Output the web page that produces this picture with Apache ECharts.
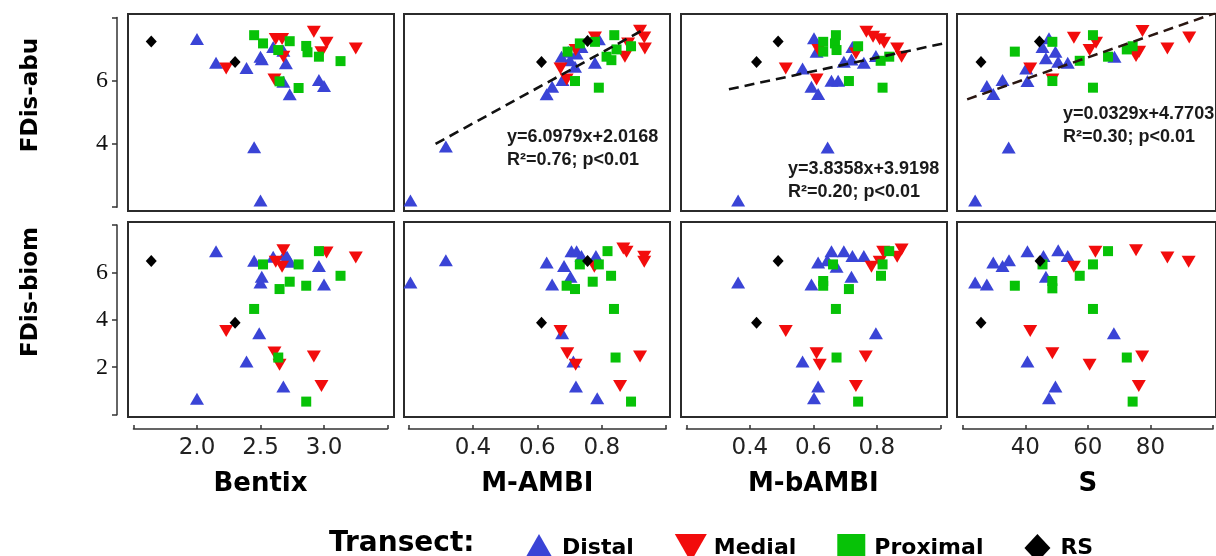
<!DOCTYPE html>
<html>
<head>
<meta charset="utf-8">
<script src="https://cdn.jsdelivr.net/npm/echarts@6/dist/echarts.min.js"></script>
<style>
  html, body { margin: 0; padding: 0; background: #fff; }
  #chart { width: 1216px; height: 556px; }
</style>
</head>
<body>
<div id="chart"></div>
<script>
// ---- data: [x, FDis] per station, one block per panel ----
var transects = ['Distal', 'Medial', 'Proximal', 'RS'];

var bentixAbu = {
  Distal: [[2.00,7.32],[2.15,6.57],[2.39,6.40],[2.50,6.76],[2.51,6.68],[2.60,7.07],[2.68,6.95],[2.70,6.55],[2.73,5.57],[2.96,6.02],[3.00,5.83],[2.68,5.97],[2.45,3.90],[2.50,2.21]],
  Medial: [[2.23,6.39],[2.62,7.32],[2.67,7.32],[2.68,6.76],[2.92,7.55],[3.02,7.20],[2.98,6.90],[3.25,7.02],[2.61,6.04]],
  Proximal: [[2.45,7.44],[2.52,7.18],[2.73,7.25],[2.64,6.97],[2.86,7.10],[2.87,6.90],[2.96,6.76],[3.13,6.62],[2.65,5.98],[2.80,5.77]],
  RS: [[1.64,7.24],[2.30,6.59]]
};
var mambiAbu = {
  Distal: [[0.206,2.21],[0.316,3.92],[0.629,5.57],[0.646,5.81],[0.678,6.02],[0.675,6.76],[0.701,6.65],[0.717,6.44],[0.722,6.86],[0.737,7.07],[0.779,6.57],[0.791,7.31],[0.696,6.92]],
  Medial: [[0.672,6.39],[0.691,6.04],[0.719,6.97],[0.779,7.37],[0.872,6.76],[0.882,7.18],[0.919,7.58],[0.932,7.37],[0.934,7.02]],
  Proximal: [[0.694,6.92],[0.717,5.99],[0.732,7.18],[0.779,7.23],[0.791,5.78],[0.815,6.76],[0.830,6.65],[0.839,7.44],[0.846,6.99],[0.891,7.09]],
  RS: [[0.613,6.59],[0.756,7.26]]
};
var mbambiAbu = {
  Distal: [[0.363,2.21],[0.645,3.89],[0.566,6.39],[0.594,5.81],[0.615,5.58],[0.602,7.34],[0.610,6.92],[0.657,6.00],[0.678,6.00],[0.696,6.60],[0.720,6.67],[0.723,7.07],[0.759,6.57],[0.797,6.78]],
  Medial: [[0.513,6.39],[0.610,6.04],[0.616,6.97],[0.734,6.86],[0.767,7.55],[0.788,7.39],[0.809,7.31],[0.823,7.20],[0.864,7.02],[0.878,6.76]],
  Proximal: [[0.631,7.23],[0.631,6.92],[0.671,7.44],[0.668,7.18],[0.673,6.97],[0.741,7.09],[0.712,5.99],[0.812,6.63],[0.839,6.76],[0.818,5.78]],
  RS: [[0.421,6.59],[0.489,7.24]]
};
var sAbu = {
  Distal: [[24.1,2.21],[35.0,3.89],[27.9,5.83],[30.0,5.58],[33.0,6.02],[41.1,5.99],[40.7,6.39],[46.0,7.07],[48.1,7.34],[47.1,6.71],[50.2,6.92],[51.1,6.60],[54.2,6.57],[69.4,6.76]],
  Medial: [[42.0,6.39],[49.2,6.04],[56.2,7.36],[61.3,6.97],[63.4,7.20],[76.4,6.78],[78.5,7.57],[77.4,6.92],[86.6,7.02],[93.7,7.37]],
  Proximal: [[37.0,6.92],[49.2,7.23],[49.2,5.99],[58.1,6.63],[62.4,7.44],[62.4,5.78],[67.3,6.76],[73.4,6.99],[75.3,7.09]],
  RS: [[26.0,6.59],[45.0,7.24]]
};
var bentixBiom = {
  Distal: [[2.15,6.90],[2.45,6.49],[2.51,5.82],[2.50,5.58],[2.60,6.66],[2.71,6.66],[2.73,6.45],[2.96,6.27],[3.00,5.49],[2.49,3.43],[2.39,2.24],[2.68,1.19],[2.00,0.67],[2.69,6.76]],
  Medial: [[2.23,3.53],[2.68,6.94],[2.62,6.45],[2.67,6.24],[3.02,6.84],[3.25,6.63],[2.61,2.62],[2.65,2.10],[2.92,2.45],[2.98,1.21]],
  Proximal: [[2.52,6.34],[2.80,6.34],[2.96,6.90],[2.73,5.61],[2.65,5.30],[2.86,5.44],[3.13,5.86],[2.45,4.46],[2.64,2.41],[2.86,0.55]],
  RS: [[1.64,6.48],[2.30,3.88]]
};
var mambiBiom = {
  Distal: [[0.206,5.58],[0.316,6.52],[0.629,6.42],[0.646,5.49],[0.683,6.27],[0.703,5.82],[0.706,6.90],[0.722,6.90],[0.737,6.70],[0.782,6.70],[0.677,3.43],[0.712,2.24],[0.720,1.19],[0.786,0.69]],
  Medial: [[0.672,3.53],[0.693,2.59],[0.719,2.10],[0.777,6.24],[0.877,6.87],[0.919,2.45],[0.932,6.66],[0.932,6.45],[0.857,1.21],[0.867,7.01]],
  Proximal: [[0.818,6.90],[0.732,6.34],[0.791,6.34],[0.829,5.86],[0.772,5.61],[0.691,5.44],[0.717,5.30],[0.838,4.46],[0.843,2.41],[0.891,0.55]],
  RS: [[0.613,3.88],[0.756,6.48]]
};
var mbambiBiom = {
  Distal: [[0.363,5.58],[0.594,5.49],[0.615,6.42],[0.644,6.52],[0.657,6.90],[0.696,6.90],[0.673,6.24],[0.723,6.70],[0.759,6.70],[0.720,5.82],[0.797,3.43],[0.566,2.24],[0.615,1.19],[0.602,0.69]],
  Medial: [[0.513,3.53],[0.610,2.59],[0.620,2.10],[0.765,2.45],[0.734,1.21],[0.783,6.24],[0.809,6.45],[0.820,6.87],[0.864,6.66],[0.878,6.97]],
  Proximal: [[0.662,6.34],[0.631,5.64],[0.631,5.44],[0.712,5.30],[0.671,4.46],[0.673,2.41],[0.741,0.55],[0.813,5.86],[0.818,6.34],[0.839,6.90]],
  RS: [[0.489,6.48],[0.421,3.88]]
};
var sBiom = {
  Distal: [[24.1,5.58],[27.9,5.49],[30.0,6.42],[33.0,6.27],[35.1,6.52],[41.1,6.90],[46.3,6.70],[47.1,5.82],[51.1,6.94],[54.2,6.70],[69.2,3.43],[41.1,2.24],[50.2,1.19],[48.1,0.69]],
  Medial: [[42.0,3.53],[49.2,2.59],[61.3,2.10],[78.4,2.45],[77.3,1.21],[56.2,6.24],[63.2,6.87],[76.4,6.94],[86.6,6.63],[93.5,6.45]],
  Proximal: [[37.0,5.44],[46.0,6.34],[49.2,5.64],[49.2,5.33],[58.1,5.86],[62.4,6.34],[62.4,4.46],[67.3,6.90],[73.4,2.41],[75.3,0.55]],
  RS: [[26.0,3.88],[45.2,6.48]]
};

// dashed fits (ends as drawn) and their labels
var fitMambi = [[0.284,4.00],[0.936,7.65]];
var fitMbambi = [[0.334,5.73],[1.02,7.20]];
var fitS = [[21.5,5.41],[102.3,8.14]];
var fitMambiText = ['y=6.0979x+2.0168', 'R\u00b2=0.76; p<0.01'];
var fitMbambiText = ['y=3.8358x+3.9198', 'R\u00b2=0.20; p<0.01'];
var fitSText = ['y=0.0329x+4.7703', 'R\u00b2=0.30; p<0.01'];

// axis ticks
var bentixTicks = [2.0, 2.5, 3.0];
var ambiTicks = [0.4, 0.6, 0.8];
var sTicks = [40, 60, 80];
var abuTicks = [4, 6];
var biomTicks = [2, 4, 6];

// ---- layout ----
var colLeft = [128, 404, 681, 957], colW = 266;
var rowTop = [14, 222], rowH = [197, 195];
var cols = [
  { name: 'Bentix', min: 1.457, max: 3.551, bMin: 1.5, bMax: 3.5, step: 0.5, ticks: bentixTicks, dec: 1, abu: bentixAbu, biom: bentixBiom },
  { name: 'M-AMBI', min: 0.186, max: 1.012, bMin: 0.2, bMax: 1.0, step: 0.2, ticks: ambiTicks, dec: 1, abu: mambiAbu, biom: mambiBiom, fit: fitMambi, fitText: fitMambiText, fitColor: '#111', textPos: [507, 137] },
  { name: 'M-bAMBI', min: 0.183, max: 1.021, bMin: 0.2, bMax: 1.0, step: 0.2, ticks: ambiTicks, dec: 1, abu: mbambiAbu, biom: mbambiBiom, fit: fitMbambi, fitText: fitMbambiText, fitColor: '#111', textPos: [788, 169] },
  { name: 'S', min: 18.2, max: 102.4, bMin: 20, bMax: 100, step: 20, ticks: sTicks, dec: 0, abu: sAbu, biom: sBiom, fit: fitS, fitText: fitSText, fitColor: '#2a1712', textPos: [1063, 114] }
];
var rows = [
  { label: 'FDis-abu', min: 1.88, max: 8.11, bMin: 2, bMax: 8, ticks: abuTicks, key: 'abu', labelY: 95 },
  { label: 'FDis-biom', min: -0.1, max: 8.13, bMin: 0, bMax: 8, ticks: biomTicks, key: 'biom', labelY: 292 }
];

var look = {
  Distal: { color: '#3a44d6', symbol: 'triangle', size: [14, 12], icon: 'triangle' },
  Medial: { color: '#f20c0c', symbol: 'path://M0,0L14,0L7,12Z', size: [14, 12], icon: 'path://M0,0L32,0L16,28Z' },
  Proximal: { color: '#07c207', symbol: 'rect', size: [10, 10], icon: 'path://M0,0L28,0L28,28L0,28Z' },
  RS: { color: '#000000', symbol: 'diamond', size: [11, 12], icon: 'path://M13,0L26,14L13,28L0,14Z' }
};

var axisColor = '#333';
var grids = [], xAxes = [], yAxes = [], series = [], graphics = [];

function addGrid(g, xa, ya) {
  grids.push(g);
  var i = grids.length - 1;
  xa.gridIndex = i; ya.gridIndex = i;
  xAxes.push(xa); yAxes.push(ya);
  return i;
}

// data panels
rows.forEach(function (r, ri) {
  cols.forEach(function (c, ci) {
    var idx = addGrid(
      { left: colLeft[ci], top: rowTop[ri], width: colW, height: rowH[ri], show: true,
        backgroundColor: '#fff', borderColor: '#2b2b2b', borderWidth: 2 },
      { type: 'value', min: c.min, max: c.max, show: false },
      { type: 'value', min: r.min, max: r.max, show: false }
    );
    transects.forEach(function (t) {
      series.push({
        type: 'scatter', name: t, xAxisIndex: idx, yAxisIndex: idx,
        data: c[r.key][t], symbol: look[t].symbol, symbolSize: look[t].size,
        itemStyle: { color: look[t].color, opacity: 1 }, z: 3
      });
    });
    if (ri === 0 && c.fit) {
      series.push({
        type: 'line', xAxisIndex: idx, yAxisIndex: idx, data: c.fit, showSymbol: false,
        lineStyle: { color: c.fitColor, width: 2.6, type: [10, 6] }, z: 5, silent: true
      });
      c.fitText.forEach(function (s, k) {
        graphics.push({ type: 'text', x: c.textPos[0], y: c.textPos[1] + k * 23, z: 10,
          style: { text: s, font: 'bold 18px "Liberation Sans", Arial, sans-serif', fill: '#1a1a1a', verticalAlign: 'middle' } });
      });
    }
  });
});

// y bracket axes
rows.forEach(function (r, ri) {
  var pxPerUnit = rowH[ri] / (r.max - r.min);
  var top = rowTop[ri] + (r.max - r.bMax) * pxPerUnit;
  addGrid(
    { left: 117, top: top, width: 5, height: (r.bMax - r.bMin) * pxPerUnit },
    { type: 'value', min: 0, max: 1, show: false },
    { type: 'value', min: r.bMin, max: r.bMax, interval: 2, position: 'left',
      axisLine: { show: true, lineStyle: { color: axisColor, width: 1.5 } },
      axisTick: { show: true, length: 5, lineStyle: { color: axisColor, width: 1.5 } },
      splitLine: { show: false },
      axisLabel: { margin: 9, fontFamily: 'Liberation Serif', fontSize: 24, color: '#111',
        formatter: function (v) { return r.ticks.indexOf(v) >= 0 ? String(v) : ''; } } }
  );
  graphics.push({ type: 'text', x: 31, y: r.labelY, rotation: Math.PI / 2,
    style: { text: r.label, font: 'bold 23px "DejaVu Sans", sans-serif', fill: '#000', align: 'center', verticalAlign: 'middle' } });
});

// x bracket axes under the bottom row
cols.forEach(function (c, ci) {
  var pxPerUnit = colW / (c.max - c.min);
  var left = colLeft[ci] + (c.bMin - c.min) * pxPerUnit;
  addGrid(
    { left: left, top: 420, width: (c.bMax - c.bMin) * pxPerUnit, height: 9 },
    { type: 'value', min: c.bMin, max: c.bMax, interval: c.step, position: 'bottom',
      axisLine: { show: true, onZero: false, lineStyle: { color: axisColor, width: 1.5 } },
      axisTick: { show: true, inside: true, length: 4, lineStyle: { color: axisColor, width: 1.5 } },
      splitLine: { show: false },
      axisLabel: { margin: 8, fontFamily: '"DejaVu Sans", sans-serif', fontSize: 23, color: '#222', showMinLabel: true, showMaxLabel: true,
        formatter: function (v) {
          var hit = c.ticks.some(function (t) { return Math.abs(t - v) < 1e-6; });
          return hit ? v.toFixed(c.dec) : '';
        } },
      name: c.name, nameLocation: 'middle', nameGap: 42,
      nameTextStyle: { fontFamily: '"DejaVu Sans", sans-serif', fontWeight: 'bold', fontSize: 26, color: '#000' } },
    { type: 'value', min: 0, max: 1, show: false }
  );
});

// legend title
graphics.push({ type: 'text', x: 329, y: 544,
  style: { text: 'Transect:', font: 'bold 28px "DejaVu Sans", sans-serif', fill: '#000', verticalAlign: 'middle' } });

var chart = echarts.init(document.getElementById('chart'), null, { renderer: 'canvas' });
chart.setOption({
  animation: false,
  backgroundColor: '#fff',
  grid: grids,
  xAxis: xAxes,
  yAxis: yAxes,
  series: series,
  graphic: graphics,
  legend: {
    left: 518, top: 529, itemWidth: 32, itemHeight: 28, itemGap: 41,
    data: transects.map(function (t) { return { name: t, icon: look[t].icon }; }),
    textStyle: { fontFamily: '"DejaVu Sans", sans-serif', fontWeight: 'bold', fontSize: 22, color: '#000', padding: [0, 0, 0, 2] }
  }
});
</script>
</body>
</html>
